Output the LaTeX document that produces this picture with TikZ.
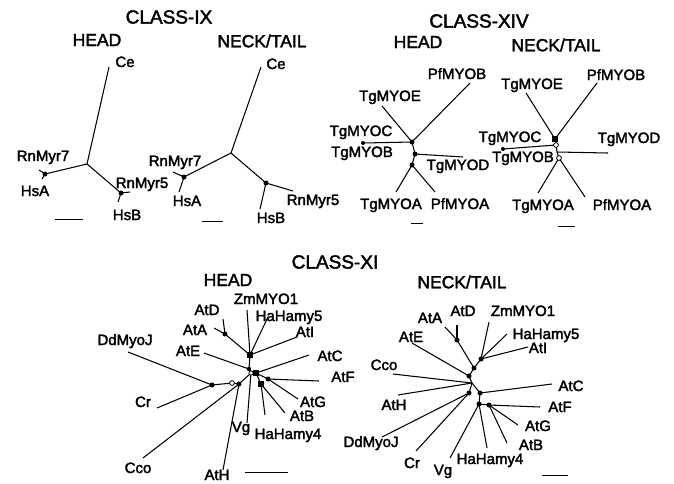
\documentclass[tikz,border=0pt]{standalone}
\usepackage{fontspec}
\setmainfont{Liberation Sans}
\newfontfamily\lfont[FakeBold=2.2]{Liberation Sans}
\begin{document}
\begin{tikzpicture}[x=1pt,y=-1pt,
  br/.style={line width=1.05pt},
  dotn/.style={circle,fill=black,inner sep=0pt,minimum size=5pt},
  sqn/.style={rectangle,fill=black,inner sep=0pt,minimum size=5.4pt},
  opn/.style={circle,draw=black,fill=white,line width=0.8pt,inner sep=0pt,minimum size=4.8pt},
  lab/.style={inner sep=0pt,text height=11pt,text depth=3pt,font=\lfont\fontsize{15}{17}\selectfont},
  ttl/.style={inner sep=0pt,font=\lfont\fontsize{19}{21}\selectfont},
  subt/.style={inner sep=0pt,font=\lfont\fontsize{17.5}{20}\selectfont},
  sbar/.style={line width=0.85pt}]
\useasboundingbox (0,0) rectangle (674,483);

% ================= CLASS-IX =================
\node[ttl] (t9) at (169,17) {CLASS-IX};
\node[subt] (t9h) at (97,40) {HEAD};
\node[subt] (t9n) at (262,41) {NECK/TAIL};

% HEAD
\coordinate (a9r) at (87,164);
\coordinate (a9ce) at (109,67);
\coordinate (a9n1) at (45,174);
\coordinate (a9rn7) at (39,170);
\coordinate (a9hsa) at (42,179);
\coordinate (a9n2) at (121,193);
\coordinate (a9rn5) at (130,192);
\coordinate (a9hsb) at (118,202);
\draw[br] (a9r) -- (a9ce);
\draw[br] (a9r) -- (a9n1);
\draw[br] (a9r) -- (a9n2);
\draw[br] (a9n1) -- (a9rn7);
\draw[br] (a9n1) -- (a9hsa);
\draw[br] (a9n2) -- (a9rn5);
\draw[br] (a9n2) -- (a9hsb);
\node[dotn] (a9d1) at (a9n1) {};
\node[dotn] (a9d2) at (a9n2) {};
\node[lab] (a9lce) at (125,63) {Ce};
\node[lab] (a9lrn7) at (43,157) {RnMyr7};
\node[lab] (a9lhsa) at (35,192) {HsA};
\node[lab] (a9lrn5) at (142,184) {RnMyr5};
\node[lab] (a9lhsb) at (127,216) {HsB};
\coordinate (a9s1) at (55,219);
\coordinate (a9s2) at (83,219);
\draw[sbar] (a9s1) -- (a9s2);

% NECK/TAIL
\coordinate (b9r) at (231,153);
\coordinate (b9ce) at (261,67);
\coordinate (b9n1) at (184,177);
\coordinate (b9rn7) at (173,172);
\coordinate (b9hsa) at (179,192);
\coordinate (b9n2) at (266,183);
\coordinate (b9rn5) at (293,191);
\coordinate (b9hsb) at (260,209);
\draw[br] (b9r) -- (b9ce);
\draw[br] (b9r) -- (b9n1);
\draw[br] (b9r) -- (b9n2);
\draw[br] (b9n1) -- (b9rn7);
\draw[br] (b9n1) -- (b9hsa);
\draw[br] (b9n2) -- (b9rn5);
\draw[br] (b9n2) -- (b9hsb);
\node[dotn] (b9d1) at (b9n1) {};
\node[dotn] (b9d2) at (b9n2) {};
\node[lab] (b9lce) at (276,65) {Ce};
\node[lab] (b9lrn7) at (175,162) {RnMyr7};
\node[lab] (b9lhsa) at (187,202) {HsA};
\node[lab] (b9lrn5) at (313,201) {RnMyr5};
\node[lab] (b9lhsb) at (271,219) {HsB};
\coordinate (b9s1) at (202,221);
\coordinate (b9s2) at (223,221);
\draw[sbar] (b9s1) -- (b9s2);

% ================= CLASS-XIV =================
\node[ttl] (t14) at (479,21) {CLASS-XIV};
\node[subt] (t14h) at (418,42) {HEAD};
\node[subt] (t14n) at (556,45) {NECK/TAIL};

% HEAD
\coordinate (a14A) at (412,142);
\coordinate (a14B) at (415,154);
\coordinate (a14C) at (412,165);
\coordinate (a14cb) at (363,143);
\coordinate (a14e) at (382,106);
\coordinate (a14pb) at (470,83);
\coordinate (a14d) at (463,157);
\coordinate (a14a) at (396,192);
\coordinate (a14pa) at (435,192);
\draw[br] (a14A) -- (a14e);
\draw[br] (a14A) -- (a14pb);
\draw[br] (a14A) -- (a14cb);
\draw[br] (a14A) -- (a14B);
\draw[br] (a14B) -- (a14d);
\draw[br] (a14B) -- (a14C);
\draw[br] (a14C) -- (a14a);
\draw[br] (a14C) -- (a14pa);
\node[dotn] (a14dA) at (a14A) {};
\node[dotn] (a14dB) at (a14B) {};
\node[dotn] (a14dC) at (a14C) {};
\node[dotn,minimum size=4pt] (a14dcb) at (a14cb) {};
\node[lab] (a14lpb) at (457,75) {PfMYOB};
\node[lab] (a14le) at (390,97) {TgMYOE};
\node[lab] (a14lc) at (361,132) {TgMYOC};
\node[lab] (a14lb) at (362,153) {TgMYOB};
\node[lab] (a14ld) at (458,166) {TgMYOD};
\node[lab] (a14la) at (391,205) {TgMYOA};
\node[lab] (a14lpa) at (460,205) {PfMYOA};
\coordinate (a14s1) at (411,223);
\coordinate (a14s2) at (423,223);
\draw[sbar] (a14s1) -- (a14s2);

% NECK/TAIL
\coordinate (b14S) at (555,139);
\coordinate (b14O1) at (556,145);
\coordinate (b14J) at (557,152);
\coordinate (b14O2) at (559,158);
\coordinate (b14cb) at (503,149);
\coordinate (b14e) at (526,93);
\coordinate (b14pb) at (597,83);
\coordinate (b14d) at (608,153);
\coordinate (b14a) at (538,193);
\coordinate (b14pa) at (585,197);
\draw[br] (b14S) -- (b14e);
\draw[br] (b14S) -- (b14pb);
\draw[br] (b14S) -- (b14O1);
\draw[br] (b14O1) -- (b14cb);
\draw[br] (b14O1) -- (b14J);
\draw[br] (b14J) -- (b14d);
\draw[br] (b14J) -- (b14O2);
\draw[br] (b14O2) -- (b14a);
\draw[br] (b14O2) -- (b14pa);
\node[sqn] (b14dS) at (b14S) {};
\node[opn] (b14dO1) at (b14O1) {};
\node[opn] (b14dO2) at (b14O2) {};
\node[dotn,minimum size=4pt] (b14dcb) at (b14cb) {};
\node[lab] (b14lpb) at (616,76) {PfMYOB};
\node[lab] (b14le) at (532,85) {TgMYOE};
\node[lab] (b14lc) at (510,138) {TgMYOC};
\node[lab] (b14lb) at (523,158) {TgMYOB};
\node[lab] (b14ld) at (629,139) {TgMYOD};
\node[lab] (b14la) at (543,206) {TgMYOA};
\node[lab] (b14lpa) at (622,206) {PfMYOA};
\coordinate (b14s1) at (558,226);
\coordinate (b14s2) at (575,226);
\draw[sbar] (b14s1) -- (b14s2);

% ================= CLASS-XI =================
\node[ttl] (t11) at (335,262) {CLASS-XI};
\node[subt] (t11h) at (228,280) {HEAD};
\node[subt] (t11n) at (462,282) {NECK/TAIL};

% HEAD
\coordinate (h1) at (250,355);
\coordinate (hAD) at (225,334);
\coordinate (h2) at (249,369);
\coordinate (h3) at (251,373);
\coordinate (h4) at (256,373);
\coordinate (hF) at (268,379);
\coordinate (hH4) at (261,384);
\coordinate (h5) at (239,384);
\coordinate (h6) at (232,383);
\coordinate (h7) at (212,385);
\coordinate (hzm) at (247,310);
\coordinate (hatd) at (223,319);
\coordinate (hata) at (214,328);
\coordinate (hhh5) at (268,317);
\coordinate (hati) at (297,337);
\coordinate (hate) at (204,353);
\coordinate (hatc) at (309,355);
\coordinate (hatf) at (319,381);
\coordinate (hatg) at (298,399);
\coordinate (hatb) at (285,413);
\coordinate (hhh4) at (265,415);
\coordinate (hvg) at (247,423);
\coordinate (hath) at (223,470);
\coordinate (hcco) at (143,458);
\coordinate (hdd) at (128,352);
\coordinate (hcr) at (157,408);
\draw[br] (h1) -- (hzm);
\draw[br] (h1) -- (hhh5);
\draw[br] (h1) -- (hati);
\draw[br] (h1) -- (hAD);
\draw[br] (hAD) -- (hatd);
\draw[br] (hAD) -- (hata);
\draw[br] (h1) -- (h2);
\draw[br] (h2) -- (hate);
\draw[br] (h2) -- (h3);
\draw[br] (h3) -- (h4);
\draw[br] (h4) -- (hatc);
\draw[br] (h4) -- (hF);
\draw[br] (hF) -- (hatf);
\draw[br] (hF) -- (hatg);
\draw[br] (h4) -- (hH4);
\draw[br] (hH4) -- (hhh4);
\draw[br] (hH4) -- (hatb);
\draw[br] (h3) -- (hvg);
\draw[br] (h3) -- (h5);
\draw[br] (h5) -- (hath);
\draw[br] (h5) -- (hcco);
\draw[br] (h5) -- (h6);
\draw[br] (h6) -- (h7);
\draw[br] (h7) -- (hdd);
\draw[br] (h7) -- (hcr);
\node[sqn] (hd1) at (h1) {};
\node[dotn] (hdAD) at (hAD) {};
\node[dotn,minimum size=4.4pt] (hd2) at (h2) {};
\node[opn,minimum size=4.2pt] (hd3) at (h3) {};
\node[sqn] (hd4) at (h4) {};
\node[dotn] (hdF) at (hF) {};
\node[sqn] (hdH4) at (hH4) {};
\node[dotn] (hd5) at (h5) {};
\node[opn] (hd6) at (h6) {};
\node[dotn] (hd7) at (h7) {};
\node[lab] (hlzm) at (266,300) {ZmMYO1};
\node[lab] (hlatd) at (207,311) {AtD};
\node[lab] (hlhh5) at (289,317) {HaHamy5};
\node[lab] (hlata) at (195,331) {AtA};
\node[lab] (hlati) at (305,333) {AtI};
\node[lab] (hlate) at (188,352) {AtE};
\node[lab] (hlatc) at (330,357) {AtC};
\node[lab] (hldd) at (125,341) {DdMyoJ};
\node[lab] (hlatf) at (343,378) {AtF};
\node[lab] (hlcr) at (143,403) {Cr};
\node[lab] (hlatg) at (313,403) {AtG};
\node[lab] (hlatb) at (302,417) {AtB};
\node[lab] (hlvg) at (241,428) {Vg};
\node[lab] (hlhh4) at (288,435) {HaHamy4};
\node[lab] (hlcco) at (138,469) {Cco};
\node[lab] (hlath) at (217,476) {AtH};
\coordinate (hs1) at (245,472);
\coordinate (hs2) at (288,472);
\draw[sbar] (hs1) -- (hs2);

% NECK/TAIL
\coordinate (m1) at (481,359);
\coordinate (mAD) at (457,340);
\coordinate (m2) at (474,368);
\coordinate (m3) at (469,376);
\coordinate (mJ) at (472,383);
\coordinate (m4) at (469,393);
\coordinate (m5) at (480,393);
\coordinate (m6) at (479,404);
\coordinate (m7) at (489,405);
\coordinate (mzm) at (489,322);
\coordinate (matd) at (457,325);
\coordinate (mata) at (445,327);
\coordinate (mhh5) at (507,334);
\coordinate (mati) at (528,347);
\coordinate (mate) at (412,343);
\coordinate (mcco) at (393,374);
\coordinate (math) at (398,395);
\coordinate (mdd) at (382,437);
\coordinate (mcr) at (416,451);
\coordinate (mvg) at (450,458);
\coordinate (mhh4) at (487,448);
\coordinate (matb) at (507,443);
\coordinate (matg) at (518,425);
\coordinate (matf) at (540,407);
\coordinate (matc) at (552,384);
\draw[br] (m1) -- (mzm);
\draw[br] (m1) -- (mhh5);
\draw[br] (m1) -- (mati);
\draw[br] (m1) -- (m2);
\draw[br] (mAD) -- (m2);
\draw[br] (mAD) -- (matd);
\draw[br] (mAD) -- (mata);
\draw[br] (m2) -- (m3);
\draw[br] (m3) -- (mate);
\draw[br] (m3) -- (mJ);
\draw[br] (mJ) -- (mcco);
\draw[br] (mJ) -- (math);
\draw[br] (mJ) -- (m4);
\draw[br] (m4) -- (mdd);
\draw[br] (m4) -- (mcr);
\draw[br] (mJ) -- (m5);
\draw[br] (m5) -- (matc);
\draw[br] (m5) -- (m6);
\draw[br] (m6) -- (mvg);
\draw[br] (m6) -- (mhh4);
\draw[br] (m6) -- (m7);
\draw[br] (m7) -- (matb);
\draw[br] (m7) -- (matg);
\draw[br] (m7) -- (matf);
\node[dotn] (md1) at (m1) {};
\node[dotn] (mdAD) at (mAD) {};
\node[dotn] (md2) at (m2) {};
\node[dotn] (md3) at (m3) {};
\node[dotn] (md4) at (m4) {};
\node[dotn] (md5) at (m5) {};
\node[dotn] (md6) at (m6) {};
\node[dotn] (md7) at (m7) {};
\node[lab] (mlata) at (430,319) {AtA};
\node[lab] (mlatd) at (463,312) {AtD};
\node[lab] (mlzm) at (523,312) {ZmMYO1};
\node[lab] (mlhh5) at (546,335) {HaHamy5};
\node[lab] (mlati) at (538,349) {AtI};
\node[lab] (mlate) at (411,338) {AtE};
\node[lab] (mlcco) at (384,366) {Cco};
\node[lab] (mlath) at (394,406) {AtH};
\node[lab] (mlatc) at (571,387) {AtC};
\node[lab] (mlatf) at (560,408) {AtF};
\node[lab] (mlatg) at (538,427) {AtG};
\node[lab] (mlatb) at (531,446) {AtB};
\node[lab] (mldd) at (371,443) {DdMyoJ};
\node[lab] (mlcr) at (412,464) {Cr};
\node[lab] (mlvg) at (443,471) {Vg};
\node[lab] (mlhh4) at (490,460) {HaHamy4};
\coordinate (ms1) at (542,475);
\coordinate (ms2) at (568,475);
\draw[sbar] (ms1) -- (ms2);
\end{tikzpicture}
\end{document}
